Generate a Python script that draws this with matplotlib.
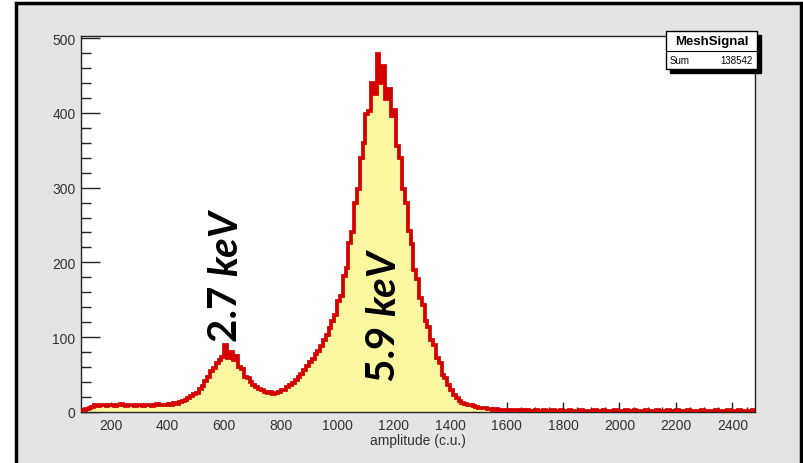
import matplotlib
matplotlib.use("Agg")
import matplotlib.pyplot as plt
import matplotlib.patches as patches
import matplotlib.transforms as mtransforms
import numpy as np

# histogram "MeshSignal": 10 c.u. bins starting at 90
bin_start = 90
bin_width = 10
counts = [
    3, 3, 4, 6, 7, 9, 8, 10, 9, 8,                 # 90-180
    9, 10, 8, 9, 11, 9, 8, 10, 9, 8,               # 190-280
    10, 9, 8, 9, 10, 8, 9, 11, 9, 10,              # 290-380
    9, 11, 10, 12, 11, 13, 15, 16, 19, 21,         # 390-480
    24, 26, 31, 35, 42, 47, 55, 59, 66, 70,        # 490-580
    74, 90, 72, 80, 70, 75, 60, 57, 47, 45,        # 590-680
    40, 36, 33, 31, 29, 27, 25, 27, 24, 26,        # 690-780
    27, 29, 30, 33, 36, 39, 43, 47, 51, 56,        # 790-880
    61, 67, 71, 77, 82, 88, 96, 103, 112, 121,     # 890-980
    130, 148, 155, 182, 192, 226, 240, 280, 298, 340,   # 990-1080
    360, 398, 402, 440, 425, 478, 440, 462, 418, 432,   # 1090-1180
    396, 404, 355, 340, 298, 280, 242, 225, 190, 178,   # 1190-1280
    152, 143, 122, 114, 96, 90, 72, 66, 50, 45,    # 1290-1380
    36, 29, 23, 19, 15, 12, 11, 10, 9, 8,          # 1390-1480
    7, 6, 5, 5, 4, 4, 3, 4, 3, 3,                  # 1490-1580
    3, 3, 2, 3, 3, 2, 3, 2, 3, 2,                  # 1590-1680
    2, 3, 2, 2, 3, 2, 2, 3, 2, 2,                  # 1690-1780
    3, 2, 2, 3, 2, 2, 2, 3, 2, 2,                  # 1790-1880
    2, 2, 3, 2, 2, 3, 2, 2, 2, 3,                  # 1890-1980
    2, 2, 2, 3, 2, 2, 3, 2, 2, 2,                  # 1990-2080
    3, 2, 2, 2, 3, 2, 2, 2, 3, 2,                  # 2090-2180
    2, 3, 2, 2, 2, 3, 2, 2, 2, 2,                  # 2190-2280
    3, 2, 2, 2, 2, 3, 2, 2, 2, 3,                  # 2290-2380
    2, 2, 2, 3, 2, 2, 2, 2, 3,                     # 2390-2470
]
hist_name = "MeshSignal"
hist_sum = "138542"
peak_labels = [("2.7 ", "keV", 604, 95), ("5.9 ", "keV", 1165, 41)]

edges = bin_start + bin_width * np.arange(len(counts) + 1)

W, H = 804, 464
fig = plt.figure(figsize=(W / 100, H / 100), dpi=100)
fig.patch.set_facecolor("white")

# grey canvas with black frame
frame = patches.Rectangle((16 / W, -0.02), (801 - 16) / W, 1.02 - 4 / H,
                          transform=fig.transFigure, facecolor="#e4e4e4",
                          edgecolor="black", linewidth=2.5, zorder=-5)
fig.patches.append(frame)

ax = fig.add_axes([81 / W, 1 - 413 / H, (755 - 81) / W, (413 - 37) / H])
ax.set_facecolor("white")

ax.stairs(counts, edges, fill=True, color="#fbf7a0", zorder=2)
ax.stairs(counts, edges, color="#d40000", linewidth=2.7, zorder=3)

ax.set_xlim(93, 2480)
ax.set_ylim(0, 502.7)

ax.set_xticks(np.arange(200, 2401, 200))
ax.set_xticks(np.arange(100, 2480, 50), minor=True)
ax.set_yticks(np.arange(0, 501, 100))
ax.set_yticks(np.arange(0, 501, 20), minor=True)

ax.tick_params(axis="both", which="both", direction="in", colors="#222222",
               labelcolor="#333333", top=False, right=False)
ax.tick_params(axis="y", which="major", length=14, width=1, pad=4)
ax.tick_params(axis="y", which="minor", length=7, width=1)
ax.tick_params(axis="x", which="major", length=7, width=1, pad=4)
ax.tick_params(axis="x", which="minor", length=3.5, width=1)
for lab in ax.get_xticklabels() + ax.get_yticklabels():
    lab.set_fontfamily("Liberation Sans")
    lab.set_fontsize(10)

for sp in ax.spines.values():
    sp.set_color("#222222")
    sp.set_linewidth(1.0)

ax.set_xlabel("amplitude (c.u.)", fontfamily="Liberation Sans", fontsize=10,
              color="#333333")
ax.xaxis.set_label_coords(0.5, -0.055)

# peak annotations
fig.canvas.draw()
renderer = fig.canvas.get_renderer()
for num, unit, xv, yv in peak_labels:
    t1 = ax.text(xv, yv, num, rotation=90, ha="center", va="bottom",
                 fontfamily="Lato", fontweight="bold", fontsize=29,
                 color="black", zorder=5)
    bb = t1.get_window_extent(renderer)
    tr = mtransforms.offset_copy(ax.transData, fig=fig, x=0, y=bb.height,
                                 units="dots")
    ax.text(xv, yv, unit, rotation=90, ha="center", va="bottom",
            fontfamily="Lato", fontweight="bold", fontstyle="italic",
            fontsize=29, color="black", transform=tr, zorder=5)

# stat box
bx0, bx1, by0, bymid, by1 = 666, 757, 32, 52, 70
shadow = patches.Rectangle(((bx0 + 4) / W, 1 - (by1 + 4) / H), (bx1 - bx0) / W,
                           (by1 - by0) / H, transform=fig.transFigure,
                           facecolor="black", edgecolor="black", zorder=10)
box = patches.Rectangle((bx0 / W, 1 - by1 / H), (bx1 - bx0) / W,
                        (by1 - by0) / H, transform=fig.transFigure,
                        facecolor="white", edgecolor="black", linewidth=1,
                        zorder=11)
fig.patches.extend([shadow, box])
fig.lines.append(plt.Line2D([bx0 / W, bx1 / W], [1 - bymid / H, 1 - bymid / H],
                            transform=fig.transFigure, color="black",
                            linewidth=0.8, zorder=12))
fig.text((bx0 + bx1) / 2 / W, 1 - 42 / H, hist_name, ha="center", va="center",
         fontfamily="Liberation Sans", fontweight="bold", fontsize=9.5, zorder=13)
fig.text((bx0 + 4) / W, 1 - 61.5 / H, "Sum", ha="left", va="center",
         fontfamily="Liberation Sans", fontsize=7, zorder=13)
fig.text((bx1 - 4) / W, 1 - 61.5 / H, hist_sum, ha="right", va="center",
         fontfamily="Liberation Sans", fontsize=7, zorder=13)

fig.savefig("out.png", dpi=100)
